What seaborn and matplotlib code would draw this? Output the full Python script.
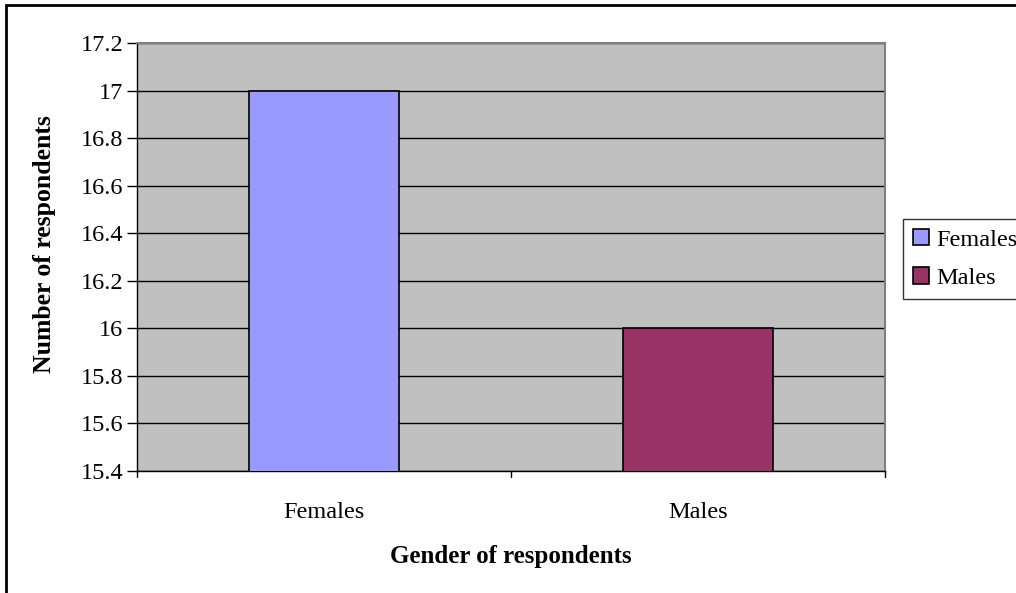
import matplotlib
matplotlib.use("Agg")
import matplotlib.pyplot as plt
import seaborn as sns
import pandas as pd
from matplotlib.patches import Rectangle, Patch
from matplotlib.lines import Line2D

categories = ["Females", "Males"]
respondents = [17, 16]
colors = ["#9999FF", "#993366"]
y_ticks = [15.4, 15.6, 15.8, 16.0, 16.2, 16.4, 16.6, 16.8, 17.0, 17.2]
y_tick_labels = ["15.4", "15.6", "15.8", "16", "16.2", "16.4", "16.6", "16.8", "17", "17.2"]

sns.set_theme(style="white")
plt.rcParams["font.family"] = ["Liberation Serif", "DejaVu Serif"]
plt.rcParams["text.color"] = "black"
plt.rcParams["xtick.color"] = "black"
plt.rcParams["ytick.color"] = "black"
plt.rcParams["axes.labelcolor"] = "black"

df = pd.DataFrame({"gender": categories, "count": respondents})

fig = plt.figure(figsize=(10.16, 5.93), dpi=100)
ax = fig.add_axes([137 / 1016, 1 - 471 / 593, 748 / 1016, 428 / 593])
ax.set_facecolor("#C0C0C0")

sns.barplot(data=df, x="gender", y="count", hue="gender", palette=colors,
            saturation=1, width=0.4, edgecolor="black", linewidth=1.2,
            legend=False, ax=ax, zorder=3)

ax.set_ylim(15.4, 17.2)
ax.set_xlim(-0.5, 1.5)
ax.set_yticks(y_ticks)
ax.set_yticklabels(y_tick_labels)
ax.yaxis.grid(True, color="black", linewidth=1.0, zorder=1)
ax.set_axisbelow(True)

# category boundary ticks on the x axis
ax.set_xticks([0, 1])
ax.set_xticklabels(categories)
ax.tick_params(axis="x", length=0, pad=22, labelsize=17.5)
for xb in [-0.5, 0.5, 1.5]:
    ax.add_line(Line2D([xb, xb], [0, -0.014], transform=ax.get_xaxis_transform(),
                       color="black", linewidth=1.0, clip_on=False))
ax.tick_params(axis="y", direction="out", length=7, width=1.0, color="black",
               labelsize=17.5, pad=3, left=True)

for side in ["top", "right"]:
    ax.spines[side].set_color("#808080")
    ax.spines[side].set_linewidth(1.5)
for side in ["left", "bottom"]:
    ax.spines[side].set_color("black")
    ax.spines[side].set_linewidth(1.0)

ax.set_xlabel("")
ax.set_ylabel("")
fig.text(511 / 1016, 1 - 557 / 593, "Gender of respondents", ha="center", va="center",
         fontsize=18, fontweight="bold")
fig.text(45 / 1016, 1 - 244 / 593, "Number of respondents", ha="center", va="center",
         rotation=90, fontsize=18.5, fontweight="bold")

handles = [Patch(facecolor=c, edgecolor="black", linewidth=1.2) for c in colors]
leg = fig.legend(handles, categories, loc="upper left",
                 bbox_to_anchor=(903 / 1016, 1 - 219 / 593), frameon=True,
                 fontsize=17.5, handlelength=0.65, handleheight=0.65, handletextpad=0.3,
                 borderpad=0.42, labelspacing=0.68, borderaxespad=0, fancybox=False)
leg.get_frame().set_edgecolor("black")
leg.get_frame().set_linewidth(1.0)

# outer chart border
fig.add_artist(Rectangle((6 / 1016, -0.1), 1.2, 1 - 5 / 593 + 0.1,
                         transform=fig.transFigure, fill=False, edgecolor="black",
                         linewidth=2.0))

fig.savefig("out.png", dpi=100)
